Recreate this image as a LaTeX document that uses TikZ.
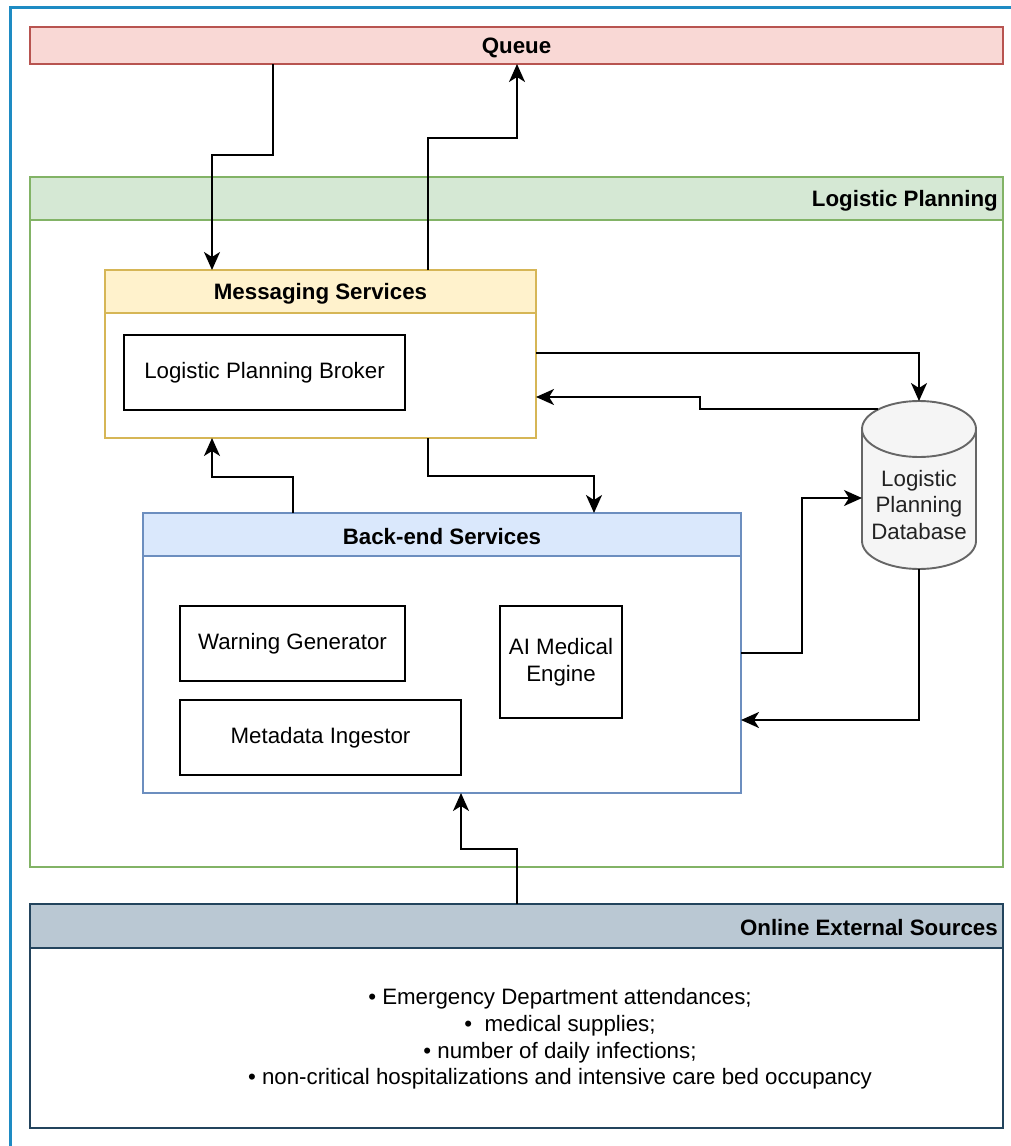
\documentclass[tikz,border=0pt]{standalone}
\usepackage{fontspec}
\setmainfont{Liberation Sans}
\usetikzlibrary{arrows.meta,calc}
\definecolor{qfill}{HTML}{F9D8D5}
\definecolor{qline}{HTML}{B85450}
\definecolor{lpfill}{HTML}{D5E8D4}
\definecolor{lpline}{HTML}{82B366}
\definecolor{msfill}{HTML}{FFF2CC}
\definecolor{msline}{HTML}{D6B656}
\definecolor{befill}{HTML}{DAE8FC}
\definecolor{beline}{HTML}{6C8EBF}
\definecolor{exfill}{HTML}{BAC8D3}
\definecolor{exline}{HTML}{23445D}
\definecolor{dbfill}{HTML}{F5F5F5}
\definecolor{dbline}{HTML}{666666}
\definecolor{dbtext}{HTML}{222222}
\definecolor{frameblue}{HTML}{1E8BC3}
\newcommand{\mysize}{\fontsize{22.3}{26.8}\selectfont}
\tikzset{
  box/.style={draw, line width=1.9pt, anchor=north west, inner sep=0pt, outer sep=0pt},
  innerbox/.style={box, draw=black, fill=white, align=center},
  arr/.style={line width=1.9pt, -{Stealth[length=18pt,width=16pt,inset=5pt]}},
  ttl/.style={font=\mysize\bfseries, inner sep=0pt},
}
\begin{document}
\begin{tikzpicture}[x=1pt,y=-1pt,font=\mysize]
\useasboundingbox (0,0) rectangle (1011,1146);
\fill[white] (0,0) rectangle (1011,1146);
\draw[frameblue, line width=3pt] (10,7) rectangle (1040,1180);

% Queue
\node[box, draw=qline, fill=qfill, minimum width=973, minimum height=37] (queue) at (30,27) {};
\node[ttl] (queuet) at ([yshift=-2pt]queue.center) {Queue};

% Logistic Planning container
\node[box, draw=lpline, fill=white, minimum width=973, minimum height=690] (lp) at (30,177) {};
\node[box, draw=lpline, fill=lpfill, minimum width=973, minimum height=43] (lph) at (30,177) {};
\node[ttl, anchor=east] (lpt) at ([xshift=-5pt,yshift=-2pt]lph.east) {Logistic Planning};

% Messaging Services
\node[box, draw=msline, fill=white, minimum width=431, minimum height=168] (msg) at (105,270) {};
\node[box, draw=msline, fill=msfill, minimum width=431, minimum height=43] (msgh) at (105,270) {};
\node[ttl] (msgt) at ([yshift=-2pt]msgh.center) {Messaging Services};
\node[innerbox, minimum width=281, minimum height=75] (broker) at (124,335) {Logistic Planning Broker};

% Back-end Services
\node[box, draw=beline, fill=white, minimum width=598, minimum height=280] (be) at (143,513) {};
\node[box, draw=beline, fill=befill, minimum width=598, minimum height=43] (beh) at (143,513) {};
\node[ttl] (bet) at ([yshift=-2pt]beh.center) {Back-end Services};
\node[innerbox, minimum width=225, minimum height=75] (warn) at (180,606) {Warning Generator};
\node[innerbox, minimum width=281, minimum height=75] (meta) at (180,700) {Metadata Ingestor};
\node[innerbox, minimum width=122, minimum height=112] (ai) at (500,606) {AI Medical\\Engine};

% Database cylinder
\node[inner sep=0pt, outer sep=0pt, minimum width=114, minimum height=168] (db) at (919,485) {};
\path[draw=dbline, fill=dbfill, line width=1.9pt]
  (862,429) -- (862,541) arc[start angle=180, end angle=360, x radius=57pt, y radius=28pt]
  -- (976,429) arc[start angle=0, end angle=180, x radius=57pt, y radius=28pt] -- cycle;
\draw[dbline, line width=1.9pt] (862,429) arc[start angle=180, end angle=360, x radius=57pt, y radius=28pt];
\node[align=center, text=dbtext, inner sep=0pt] (dbt) at (919,505) {Logistic\\Planning\\Database};

% Online External Sources
\node[box, draw=exline, fill=white, minimum width=973, minimum height=224] (ext) at (30,904) {};
\node[box, draw=exline, fill=exfill, minimum width=973, minimum height=44] (exth) at (30,904) {};
\node[ttl, anchor=east] (extt) at ([xshift=-5pt,yshift=-2pt]exth.east) {Online External Sources};
\node[align=center, inner sep=0pt] (extlist) at (560,1039) {%
  • Emergency Department attendances;\\
  •\ \ medical supplies;\\
  • number of daily infections;\\
  • non-critical hospitalizations and intensive care bed occupancy};

% Connectors
\draw[arr] ([xshift=243pt]queue.south west) -- ++(0,91) -| ([xshift=107pt]msg.north west);
\draw[arr] ([xshift=323pt]msg.north west) -- ++(0,-132) -| ([xshift=487pt]queue.south west);
\draw[arr] ([yshift=-83pt]msg.north east) -| (db.north);
\draw[arr] ([xshift=16pt,yshift=-8pt]db.north west) -- ++(-178,0) |- ([yshift=-127pt]msg.north east);
\draw[arr] ([xshift=323pt]msg.south west) -- ++(0,38) -| ([xshift=451pt]be.north west);
\draw[arr] ([xshift=150pt]be.north west) -- ++(0,-36) -| ([xshift=107pt]msg.south west);
\draw[arr] ([yshift=-140pt]be.north east) -- ++(61,0) |- ([yshift=-13pt]db.west);
\draw[arr] (db.south) |- ([yshift=-207pt]be.north east);
\draw[arr] ([xshift=487pt]ext.north west) -- ++(0,-55) -| ([xshift=318pt]be.south west);
\end{tikzpicture}
\end{document}
